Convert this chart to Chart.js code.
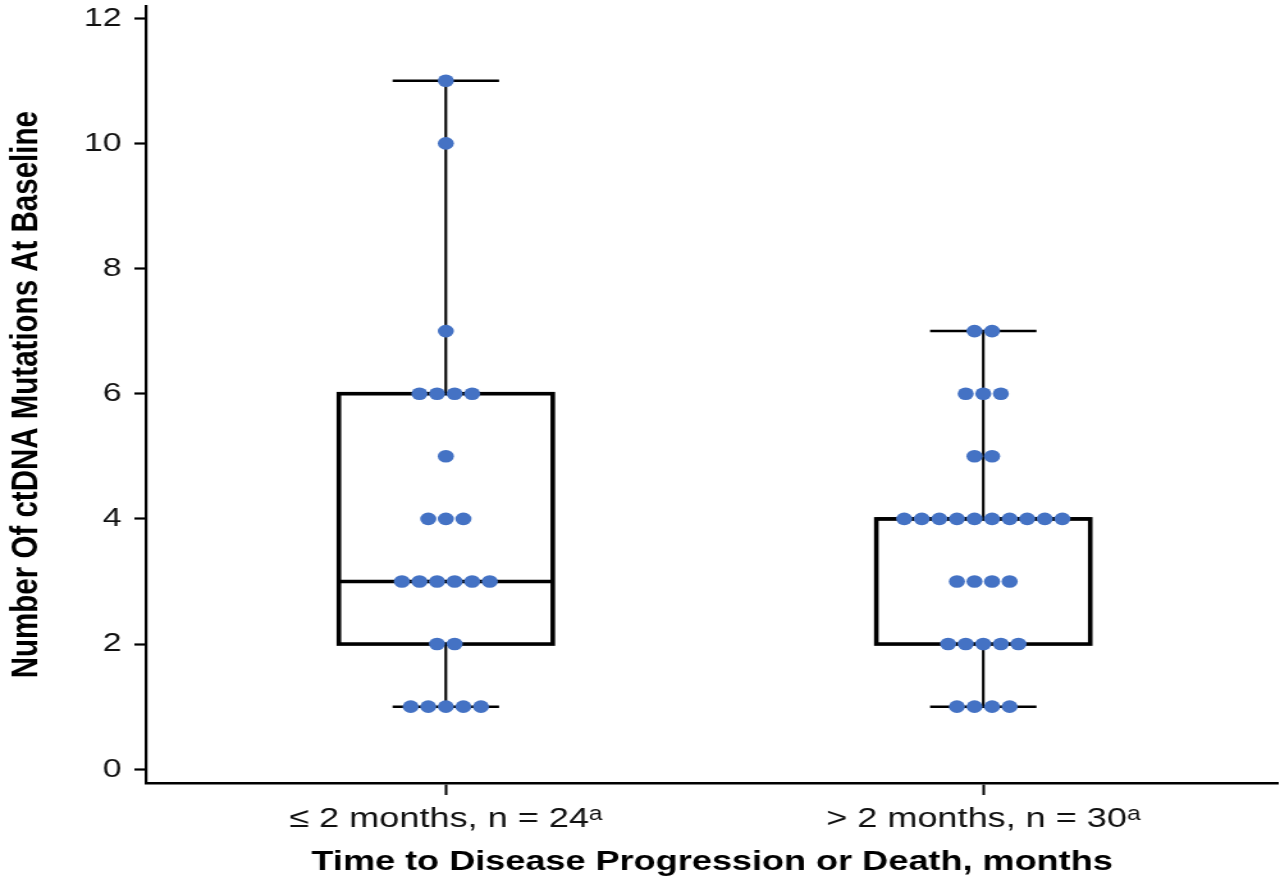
<!DOCTYPE html>
<html>
<head>
<meta charset="utf-8">
<script src="https://cdn.jsdelivr.net/npm/chart.js@4/dist/chart.umd.min.js"></script>
<style>
  html, body { margin: 0; padding: 0; background: #fff; overflow: hidden; }
  #wrap { width: 1005px; height: 879px; transform: scaleX(1.28); transform-origin: 0 0; }
  canvas { display: block; }
</style>
</head>
<body>
<div id="wrap"><canvas id="c" width="1005" height="879"></canvas></div>
<script>
// ---- data ----
const categories = ['≤ 2 months, n = 24ᵃ', '> 2 months, n = 30ᵃ'];
const group1Values = [11, 10, 7, 6, 6, 6, 6, 5, 4, 4, 4, 3, 3, 3, 3, 3, 3, 2, 2, 1, 1, 1, 1, 1];
const group2Values = [7, 7, 6, 6, 6, 5, 5, 4, 4, 4, 4, 4, 4, 4, 4, 4, 4, 3, 3, 3, 3, 2, 2, 2, 2, 2, 1, 1, 1, 1];
const boxMin    = [1, 1];
const boxQ1     = [2, 2];
const boxMedian = [3, 4];
const boxQ3     = [6, 4];
const boxMax    = [11, 7];
const yTickValues = [0, 2, 4, 6, 8, 10, 12];
const yTitle = 'Number Of ctDNA Mutations At Baseline';
const xTitle = 'Time to Disease Progression or Death, months';

// ---- layout / style constants ----
const DOT_STEP = 0.0327;   // horizontal spacing of stacked dots (x data units)
const BOX_HALF = 0.199;
const CAP_HALF = 0.099;
const FONT = "'Liberation Sans', Arial, Helvetica, sans-serif";

function swarm(values, center) {
  const counts = {};
  values.forEach(v => { counts[v] = (counts[v] || 0) + 1; });
  const pts = [];
  Object.keys(counts).forEach(k => {
    const n = counts[k];
    for (let j = 0; j < n; j++) {
      pts.push({ x: center + (j - (n - 1) / 2) * DOT_STEP, y: Number(k) });
    }
  });
  return pts;
}

const boxPlugin = {
  id: 'boxes',
  beforeDatasetsDraw(chart) {
    const { ctx, scales: { x, y } } = chart;
    ctx.save();
    ctx.strokeStyle = '#000';
    categories.forEach((c, i) => {
      const xc = x.getPixelForValue(i + 1);
      const bl = x.getPixelForValue(i + 1 - BOX_HALF);
      const br = x.getPixelForValue(i + 1 + BOX_HALF);
      const cl = x.getPixelForValue(i + 1 - CAP_HALF);
      const cr = x.getPixelForValue(i + 1 + CAP_HALF);
      const yMin = y.getPixelForValue(boxMin[i]);
      const yQ1 = y.getPixelForValue(boxQ1[i]);
      const yMed = y.getPixelForValue(boxMedian[i]);
      const yQ3 = y.getPixelForValue(boxQ3[i]);
      const yMax = y.getPixelForValue(boxMax[i]);
      // whiskers
      ctx.lineWidth = 2.1;
      ctx.beginPath();
      ctx.moveTo(xc, yQ3); ctx.lineTo(xc, yMax);
      ctx.moveTo(xc, yQ1); ctx.lineTo(xc, yMin);
      ctx.stroke();
      ctx.lineWidth = 2.5;
      ctx.beginPath();
      ctx.moveTo(cl, yMax); ctx.lineTo(cr, yMax);
      ctx.moveTo(cl, yMin); ctx.lineTo(cr, yMin);
      ctx.stroke();
      // box
      ctx.lineWidth = 3.6;
      ctx.strokeRect(bl, yQ3, br - bl, yQ1 - yQ3);
      ctx.lineWidth = 3.4;
      ctx.beginPath();
      ctx.moveTo(bl, yMed); ctx.lineTo(br, yMed);
      ctx.stroke();
    });
    ctx.restore();
  }
};

new Chart(document.getElementById('c'), {
  type: 'scatter',
  data: {
    datasets: [
      { label: categories[0], data: swarm(group1Values, 1) },
      { label: categories[1], data: swarm(group2Values, 2) }
    ].map(d => Object.assign(d, {
      backgroundColor: '#4472C4',
      borderWidth: 0,
      pointRadius: 6.3,
      pointHoverRadius: 6.3
    }))
  },
  options: {
    responsive: false,
    animation: false,
    devicePixelRatio: 1,
    layout: { padding: { top: 0, right: 0, left: 0, bottom: 0 } },
    plugins: { legend: { display: false }, tooltip: { enabled: false } },
    events: [],
    scales: {
      x: {
        type: 'linear',
        min: 0.442,
        max: 2.549,
        afterBuildTicks(s) { s.ticks = categories.map((c, i) => ({ value: i + 1 })); },
        afterFit(s) { s.height = 96; s.paddingLeft = 0; s.paddingRight = 0; },
        ticks: {
          callback: (v) => categories[v - 1],
          autoSkip: false,
          maxRotation: 0,
          color: '#111',
          padding: 7,
          font: { family: FONT, size: 28.2 }
        },
        grid: { drawOnChartArea: false, drawTicks: true, tickLength: 12, tickWidth: 2, tickColor: '#000' },
        border: { color: '#000', width: 2.6 },
        title: {
          display: true,
          text: xTitle,
          color: '#000',
          padding: { top: 0, bottom: 0 },
          font: { family: FONT, size: 28.2, weight: 'bold' }
        }
      },
      y: {
        type: 'linear',
        min: -0.22,
        max: 12.19,
        afterBuildTicks(s) { s.ticks = yTickValues.map(v => ({ value: v })); },
        afterFit(s) { s.width = 114; s.paddingTop = 0; s.paddingBottom = 0; },
        ticks: {
          color: '#111',
          padding: 10,
          font: { family: FONT, size: 26.5 }
        },
        grid: { drawOnChartArea: false, drawTicks: true, tickLength: 9, tickWidth: 2.2, tickColor: '#000' },
        border: { color: '#000', width: 2.2 },
        title: {
          display: true,
          text: yTitle,
          color: '#000',
          padding: { top: 3, bottom: 0 },
          font: { family: FONT, size: 29.5, weight: 'bold' }
        }
      }
    }
  },
  plugins: [boxPlugin]
});
</script>
</body>
</html>
